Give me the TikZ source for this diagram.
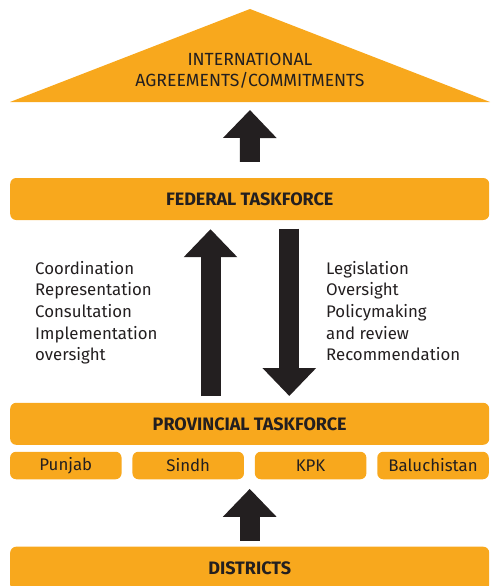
\documentclass[tikz,border=0pt]{standalone}
\usepackage{fontspec}
\setmainfont{Fira Sans}
\usetikzlibrary{arrows.meta,positioning}
\definecolor{boxorange}{HTML}{F8A81D}
\definecolor{darkink}{HTML}{231F20}

\begin{document}
\begin{tikzpicture}[x=1pt, y=-1pt,
          main/.style = {fill=boxorange, rounded corners=6pt, minimum width=479pt, minimum height=42pt, inner sep=0pt, text=darkink, font=\fontsize{18}{20}\selectfont\bfseries},
          small/.style = {fill=boxorange, rounded corners=6pt, minimum width=111.5pt, minimum height=27.5pt, inner sep=0pt, text=darkink, font=\fontsize{16.8}{18}\selectfont},
          fat/.style = {draw=darkink, line width=20pt, -{Triangle[width=52pt, length=28pt]}},
          roles/.style = {align=left, anchor=north west, inner sep=0pt, text=darkink, font=\fontsize{16.8}{21.6}\selectfont}]
        \useasboundingbox (0,0) rectangle (491,586);
        % roof
        \fill[boxorange] (10,102) -- (250,9) -- (490,102) -- cycle;
        \coordinate (roof) at (250,102);
        \node[text=darkink, align=center, font=\fontsize{17.6}{21}\selectfont] (intl) at (250,71) {INTERNATIONAL\\AGREEMENTS/COMMITMENTS};
        \node[main] (fed) at (249.7,199) {FEDERAL TASKFORCE};
        \node[main] (prov) at (249.7,423.8) {PROVINCIAL TASKFORCE};
        \node[small] (punjab) at (65.8,465.5) {Punjab};
        \node[small] (sindh) [right=10.5pt of punjab] {Sindh};
        \node[small] (kpk) [right=10.5pt of sindh] {KPK};
        \node[small] (baluch) [right=10.5pt of kpk] {Baluchistan};
        \node[main, minimum height=44pt] (dist) at (249.7,568.7) {DISTRICTS};
        \node[roles] (up) at (35,261) {Coordination\\Representation\\Consultation\\Implementation\\oversight};
        \node[roles] (down) at (326,261) {Legislation\\Oversight\\Policymaking\\and review\\Recommendation};
        \draw[fat, shorten <=16pt, shorten >=8pt] (fed.north) -- (roof);
        \draw[fat, shorten <=6.6pt, shorten >=9pt] ([xshift=-39.2pt]prov.north) -- ([xshift=-39.2pt]fed.south);
        \draw[fat, shorten <=8.3pt, shorten >=6.6pt] ([xshift=39.6pt]fed.south) -- ([xshift=39.6pt]prov.north);
        \draw[fat, shorten <=6pt, shorten >=9.4pt] (dist.north) -- (dist.north |- kpk.south);
      \end{tikzpicture}
\end{document}
